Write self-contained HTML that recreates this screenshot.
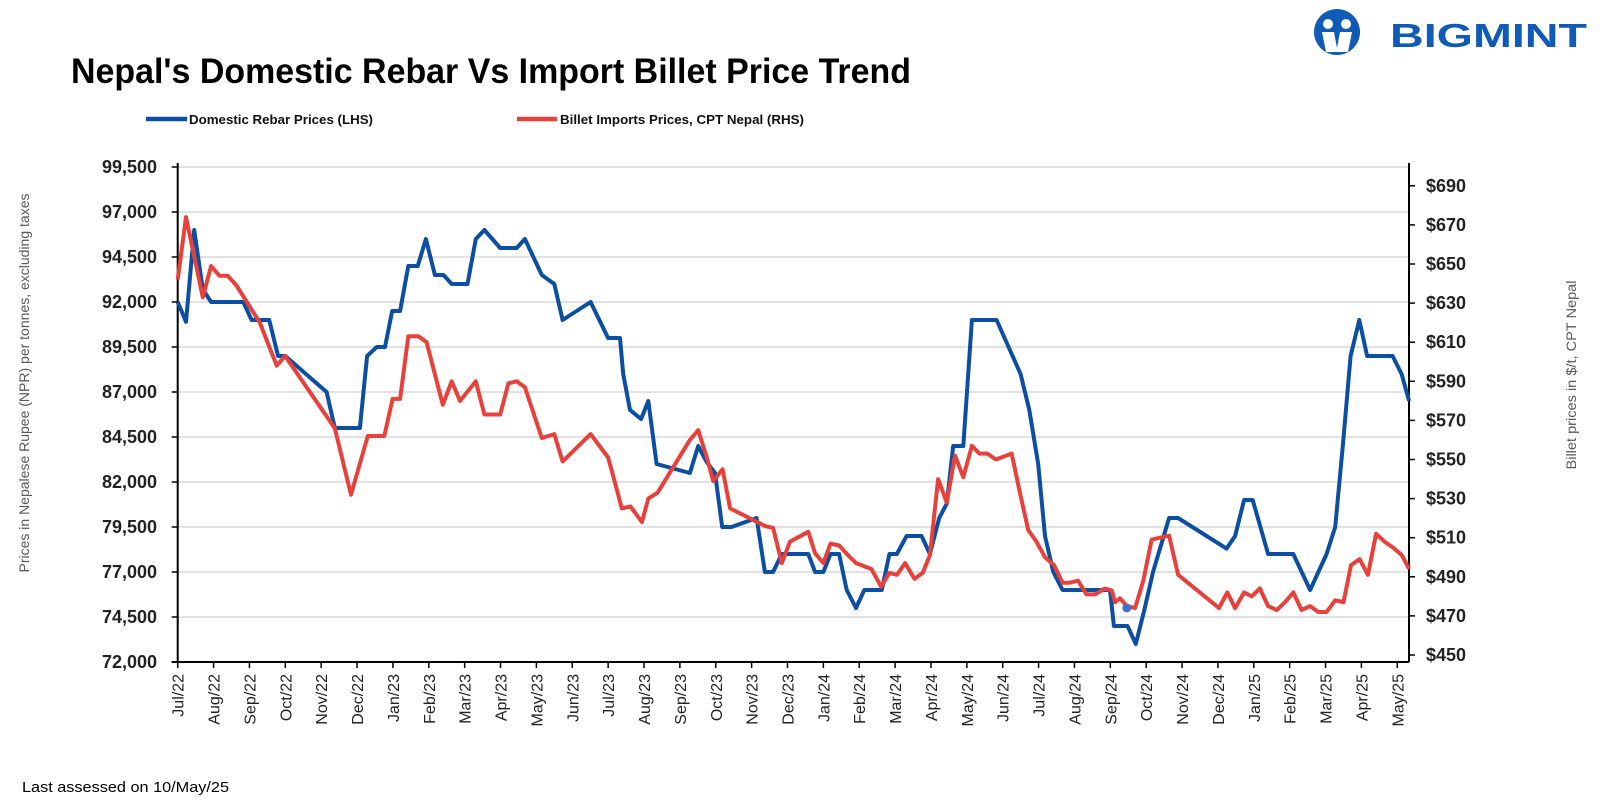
<!DOCTYPE html>
<html><head><meta charset="utf-8"><style>
html,body{margin:0;padding:0;background:#fff;}
svg{display:block;font-family:"Liberation Sans",sans-serif;}
</style></head><body>
<svg id="chart" width="1600" height="807" viewBox="0 0 1600 807" xmlns="http://www.w3.org/2000/svg">
<rect width="1600" height="807" fill="#fff"/>
<text x="71" y="83" font-size="35" font-weight="bold" fill="#000" textLength="840" lengthAdjust="spacingAndGlyphs">Nepal's Domestic Rebar Vs Import Billet Price Trend</text>
<g>
  <circle cx="1337" cy="32" r="23" fill="#0F5BB5"/>
  <circle cx="1328" cy="24" r="5" fill="#fff"/>
  <circle cx="1346" cy="24" r="5" fill="#fff"/>
  <path d="M1322 32 L1334 32 L1337 48 L1340 32 L1352 32 L1348 52 L1326 52 Z" fill="#fff"/>
  <text x="1390" y="47" font-size="33" font-weight="bold" fill="#0F5BB5" textLength="197" lengthAdjust="spacingAndGlyphs">BIGMINT</text>
</g>
<g>
  <g>
    <line x1="146" y1="119" x2="187" y2="119" stroke="#0B4EA2" stroke-width="4.5"/>
    <text x="189" y="124" font-size="13" font-weight="bold" fill="#111" textLength="184" lengthAdjust="spacingAndGlyphs">Domestic Rebar Prices (LHS)</text>
  </g>
  <g>
    <line x1="517" y1="119" x2="557" y2="119" stroke="#E8403A" stroke-width="4.5"/>
    <text x="560" y="124" font-size="13" font-weight="bold" fill="#111" textLength="244" lengthAdjust="spacingAndGlyphs">Billet Imports Prices, CPT Nepal (RHS)</text>
  </g>
</g>
<g id="grid"></g>
<g id="axes"></g>
<g id="series"></g>
<text transform="translate(29,383) rotate(-90)" text-anchor="middle" font-size="14" fill="#595959" textLength="379" lengthAdjust="spacingAndGlyphs">Prices in Nepalese Rupee (NPR) per tonnes, excluding taxes</text>
<text transform="translate(1576,375) rotate(-90)" text-anchor="middle" font-size="14" fill="#595959" textLength="189" lengthAdjust="spacingAndGlyphs">Billet prices in $/t, CPT Nepal</text>
<text x="22" y="792" font-size="15" fill="#000" textLength="207" lengthAdjust="spacingAndGlyphs">Last assessed on 10/May/25</text>
</svg>
<script>
const monthLabels = ["Jul/22","Aug/22","Sep/22","Oct/22","Nov/22","Dec/22","Jan/23","Feb/23","Mar/23","Apr/23","May/23","Jun/23","Jul/23","Aug/23","Sep/23","Oct/23","Nov/23","Dec/23","Jan/24","Feb/24","Mar/24","Apr/24","May/24","Jun/24","Jul/24","Aug/24","Sep/24","Oct/24","Nov/24","Dec/24","Jan/25","Feb/25","Mar/25","Apr/25","May/25"];
const leftTicks = [72000,74500,77000,79500,82000,84500,87000,89500,92000,94500,97000,99500];
const rightTicks = [450,470,490,510,530,550,570,590,610,630,650,670,690];
const rebarMonths = [0,0.23,0.46,0.7,0.93,1.83,2.06,2.55,2.8,3.0,4.15,4.38,5.08,5.28,5.55,5.78,5.98,6.2,6.43,6.69,6.92,7.17,7.41,7.64,8.08,8.31,8.55,8.99,9.45,9.68,10.15,10.5,10.73,11.51,12.0,12.33,12.42,12.61,12.92,13.12,13.35,14.28,14.51,14.75,14.98,15.18,15.44,16.14,16.37,16.6,16.84,17.58,17.77,18.0,18.2,18.44,18.65,18.91,19.14,19.63,19.84,20.05,20.32,20.74,20.97,21.23,21.44,21.62,21.9,22.14,22.83,23.5,23.74,23.99,24.18,24.41,24.67,25.99,26.1,26.48,26.71,26.96,27.19,27.64,27.89,29.24,29.48,29.73,29.97,30.4,31.1,31.57,32.03,32.27,32.48,32.7,32.94,33.16,33.87,34.12,34.33];
const rebarValues = [92000,90900,96000,92700,92000,92000,91000,91000,89000,89000,87000,85000,85000,89000,89500,89500,91500,91500,94000,94000,95500,93500,93500,93000,93000,95500,96000,95000,95000,95500,93500,93000,91000,92000,90000,90000,88000,86000,85500,86500,83000,82500,84000,83100,82500,79500,79500,80000,77000,77000,78000,78000,77000,77000,78000,78000,76000,75000,76000,76000,78000,78000,79000,79000,78000,80000,80800,84000,84000,91000,91000,88000,86000,83000,79000,77000,76000,76000,74000,74000,73000,75000,77000,80000,80000,78300,79000,81000,81000,78000,78000,76000,78000,79500,84000,89000,91000,89000,89000,88000,86500];
const billetMonths = [0,0.23,0.7,0.93,1.16,1.39,1.64,2.29,2.76,2.99,4.38,4.83,5.3,5.76,5.99,6.2,6.43,6.71,6.94,7.39,7.64,7.87,8.31,8.55,8.99,9.22,9.45,9.68,10.15,10.5,10.73,11.51,12.0,12.15,12.38,12.62,12.94,13.12,13.38,14.28,14.51,14.75,14.93,15.19,15.4,16.05,16.37,16.6,16.84,17.07,17.58,17.77,18.0,18.2,18.44,18.69,18.91,19.34,19.61,19.84,20.05,20.28,20.54,20.77,20.97,21.2,21.44,21.67,21.9,22.14,22.35,22.57,22.81,23.25,23.48,23.71,23.94,24.18,24.43,24.67,24.87,25.1,25.34,25.57,25.85,26.04,26.13,26.27,26.46,26.69,26.92,27.15,27.38,27.64,27.89,29.03,29.26,29.48,29.73,29.94,30.17,30.4,30.64,30.87,31.1,31.33,31.57,31.8,32.03,32.27,32.5,32.71,32.95,33.18,33.41,33.64,33.88,34.13,34.33];
const billetValues = [642,674,633,649,644,644,639,620,598,603,566,532,562,562,581,581,613,613,610,578,590,580,590,573,573,589,590,587,561,563,549,563,551,541,525,526,518,530,533,560,565,551,539,545,525,519,516,515,497,508,513,502,497,507,506,501,497,494,485,492,491,497,489,492,501,540,528,552,541,557,553,553,550,553,533,514,508,500,496,487,487,488,481,481,484,483,477,479,475,474,488,509,510,511,491,474,482,474,482,480,484,475,473,477,482,473,475,472,472,478,477,496,499,491,512,508,505,501,494];
const markerMonth = 26.46, markerValue = 75000;

const NS = "http://www.w3.org/2000/svg";
const X0 = 177.7, XSTEP = 35.87, XR = 1409, YB = 662;
const xOf = m => X0 + m * XSTEP;
const yLeft = v => YB - (v - 72000) * 45 / 2500;
const yRight = v => 655 - (v - 450) * 39.1 / 20;
function mk(tag, attrs, parent){ const e=document.createElementNS(NS,tag); for(const k in attrs) e.setAttribute(k,attrs[k]); parent.appendChild(e); return e; }

const grid = document.getElementById('grid');
const axes = document.getElementById('axes');
const series = document.getElementById('series');

leftTicks.forEach(v => {
  const y = yLeft(v);
  if (v > 72000) {
    const g = mk('line',{x1:X0,x2:XR,y1:y,y2:y,stroke:'#d9d9d9','stroke-width':1.5},grid);
    
    
  }
  mk('line',{x1:X0-6,x2:X0,y1:y,y2:y,stroke:'#000','stroke-width':1.5},axes);
  const t = mk('text',{x:157,y:y+6,'text-anchor':'end','font-size':18,'font-weight':'bold',fill:'#222'},axes);
  t.textContent = v.toLocaleString('en-US');
  
  
});
rightTicks.forEach(v => {
  const y = yRight(v);
  mk('line',{x1:XR,x2:XR+6,y1:y,y2:y,stroke:'#000','stroke-width':1.5},axes);
  const t = mk('text',{x:1426,y:y+6,'font-size':18,'font-weight':'bold',fill:'#222'},axes);
  t.textContent = '$' + v;
  
  
});
const la = mk('line',{x1:X0,x2:X0,y1:163,y2:YB,stroke:'#000','stroke-width':2},axes);


const ra = mk('line',{x1:XR,x2:XR,y1:163,y2:YB,stroke:'#000','stroke-width':2},axes);


const xa = mk('line',{x1:X0-6,x2:XR,y1:YB,y2:YB,stroke:'#000','stroke-width':2},axes);


monthLabels.forEach((lab,i) => {
  const x = xOf(i);
  mk('line',{x1:x,x2:x,y1:YB,y2:YB+6,stroke:'#000','stroke-width':1.5},axes);
  const t = mk('text',{transform:`translate(${x+6},${YB+12}) rotate(-90)`,'text-anchor':'end','font-size':16,fill:'#222'},axes);
  t.textContent = lab;
  
  
});

function line(ms, vs, yf, color, name){
  const d = ms.map((m,i)=>(i?'L':'M')+xOf(m).toFixed(1)+' '+yf(vs[i]).toFixed(1)).join(' ');
  const p = mk('path',{d:d,fill:'none',stroke:color,'stroke-width':4,'stroke-linejoin':'round'},series);
  
  
}
line(rebarMonths, rebarValues, yLeft, '#0B4EA2', 'domestic-rebar-line');
line(billetMonths, billetValues, yRight, '#E8403A', 'billet-imports-line');
const mkr = mk('circle',{cx:xOf(markerMonth),cy:yLeft(markerValue),r:4.5,fill:'#4472C4'},series);


</script>
</body></html>
